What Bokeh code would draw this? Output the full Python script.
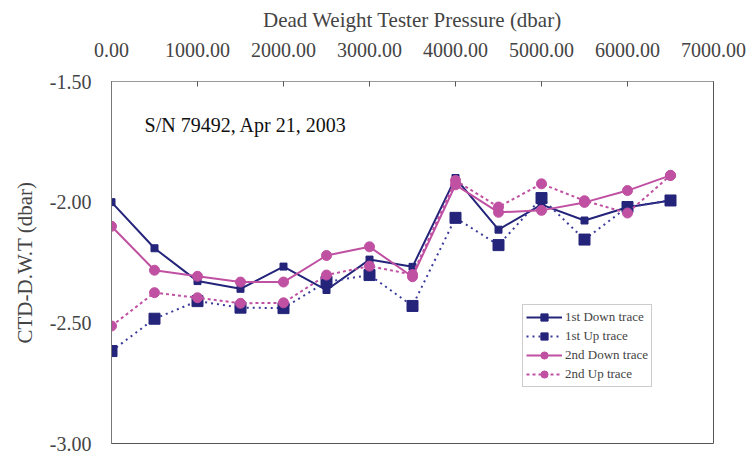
from bokeh.plotting import figure
from bokeh.models import Range1d, FixedTicker, NumeralTickFormatter, Legend, LegendItem, Label
from bokeh.embed import file_html
from bokeh.resources import INLINE

pressure = [0, 500, 1000, 1500, 2000, 2500, 3000, 3500, 4000, 4500, 5000, 5500, 6000, 6500]
down1 = [-2.000, -2.191, -2.327, -2.359, -2.267, -2.364, -2.238, -2.268, -1.900, -2.114, -2.010, -2.076, -2.021, -1.993]
up1 = [-2.617, -2.483, -2.410, -2.437, -2.439, -2.330, -2.302, -2.430, -2.065, -2.178, -1.983, -2.155, -2.020, -1.993]
down2 = [-2.100, -2.282, -2.307, -2.331, -2.331, -2.221, -2.185, -2.309, -1.928, -2.042, -2.034, -2.001, -1.952, -1.889]
up2 = [-2.513, -2.375, -2.396, -2.419, -2.417, -2.302, -2.265, -2.300, -1.910, -2.020, -1.924, -1.994, -2.045, -1.889]
x_ticks = [0, 1000, 2000, 3000, 4000, 5000, 6000, 7000]
y_ticks = [-3.0, -2.5, -2.0, -1.5]
series_names = ["1st Down trace", "1st Up trace", "2nd Down trace", "2nd Up trace"]
annotation = "S/N 79492, Apr  21, 2003"

NAVY = "#24247a"
MAG = "#c050a2"
FONT = "Liberation Serif"

p = figure(width=747, height=454, output_backend="svg", toolbar_location=None,
           x_axis_location="above", x_range=Range1d(0, 7000), y_range=Range1d(-3.0, -1.5),
           min_border_left=111, min_border_right=34, min_border_top=81, min_border_bottom=11)
p.xgrid.visible = False
p.ygrid.visible = False
p.outline_line_color = "#555555"
p.outline_line_width = 1
p.background_fill_color = "white"
p.border_fill_color = "white"

xa = p.xaxis[0]
xa.ticker = FixedTicker(ticks=x_ticks)
xa.formatter = NumeralTickFormatter(format="0.00")
xa.axis_label = "Dead Weight Tester Pressure (dbar)"
xa.axis_label_text_font = FONT
xa.axis_label_text_font_style = "normal"
xa.axis_label_text_font_size = "21px"
xa.major_label_text_font = FONT
xa.major_label_text_font_size = "20px"
xa.major_tick_in = 5
xa.major_tick_out = 0
xa.minor_tick_line_color = None
xa.axis_line_color = "#999999"
xa.major_tick_line_color = "#555555"
xa.major_label_standoff = 25
xa.axis_label_standoff = 8

ya = p.yaxis[0]
ya.ticker = FixedTicker(ticks=y_ticks)
ya.formatter = NumeralTickFormatter(format="0.00")
ya.axis_label = "CTD-D.W.T (dbar)"
ya.axis_label_text_font = FONT
ya.axis_label_text_font_style = "normal"
ya.axis_label_text_font_size = "21px"
ya.major_label_text_font = FONT
ya.major_label_text_font_size = "20px"
ya.major_tick_in = 0
ya.major_tick_out = 0
ya.minor_tick_line_color = None
ya.axis_line_color = "#777777"
ya.major_label_standoff = 20
ya.axis_label_standoff = 10

r1l = p.line(pressure, down1, line_color=NAVY, line_width=2)
r1m = p.scatter(pressure, down1, marker="square", size=7, fill_color=NAVY, line_color=NAVY)
r2l = p.line(pressure, up1, line_color="#3a3a9a", line_width=2, line_dash="2 4")
r2m = p.scatter(pressure, up1, marker="square", size=11, fill_color=NAVY, line_color=NAVY)
r3l = p.line(pressure, down2, line_color=MAG, line_width=2)
r3m = p.scatter(pressure, down2, marker="circle", size=10, fill_color=MAG, line_color=MAG)
r4l = p.line(pressure, up2, line_color=MAG, line_width=2, line_dash="3 3")
r4m = p.scatter(pressure, up2, marker="circle", size=10, fill_color=MAG, line_color=MAG)

p.add_layout(Label(x=384, y=-1.68, text=annotation, text_font=FONT, text_font_size="20px",
                   text_baseline="middle", text_color="#111111"))

legend = Legend(items=[
    LegendItem(label=series_names[0], renderers=[r1l, r1m]),
    LegendItem(label=series_names[1], renderers=[r2l, r2m]),
    LegendItem(label=series_names[2], renderers=[r3l, r3m]),
    LegendItem(label=series_names[3], renderers=[r4l, r4m]),
], location=(411, 56))
legend.label_text_font = FONT
legend.label_text_font_size = "13px"
legend.glyph_width = 36
legend.glyph_height = 18
legend.label_height = 18
legend.spacing = 1
legend.padding = 3
legend.margin = 0
legend.label_standoff = 3
legend.border_line_color = "#999999"
legend.background_fill_alpha = 1.0
p.add_layout(legend, "center")

open("out.html", "w").write(file_html(p, INLINE))
